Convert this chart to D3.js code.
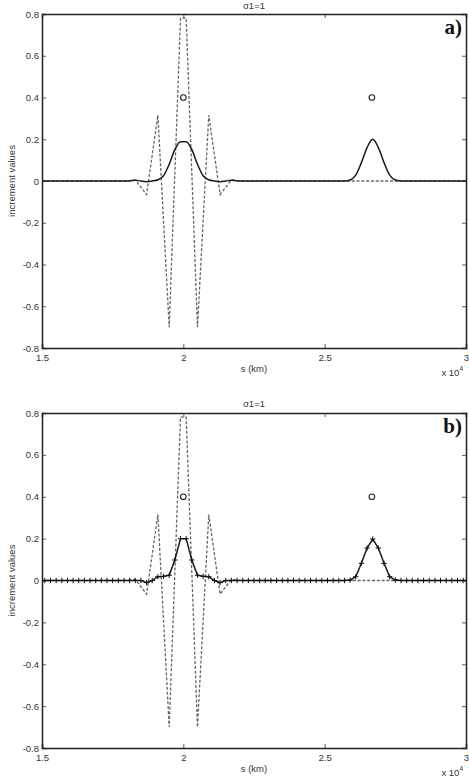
<!DOCTYPE html>
<html><head><meta charset="utf-8">
<script src="https://cdn.jsdelivr.net/npm/d3@7"></script>
<style>body{margin:0;background:#fff}svg{display:block}</style>
</head><body>
<script>
// ---- data (s in units of 1e4 km) ----
const titleText = "σ1=1";
const xTicks = [1.5, 2, 2.5, 3];
const xTickLabels = ["1.5", "2", "2.5", "3"];
const yTicks = [-0.8, -0.6, -0.4, -0.2, 0, 0.2, 0.4, 0.6, 0.8];
const yTickLabels = ["-0.8", "-0.6", "-0.4", "-0.2", "0", "0.2", "0.4", "0.6", "0.8"];

// sample grid
const sGrid = [1.51,1.53,1.55,1.57,1.59,1.61,1.63,1.65,1.67,1.69,1.71,1.73,1.75,1.77,1.79,1.81,1.83,1.85,1.87,1.89,
  1.91,1.93,1.95,1.97,1.99,2.01,2.03,2.05,2.07,2.09,2.11,2.13,2.15,2.17,2.19,2.21,2.23,2.25,2.27,2.29,
  2.31,2.33,2.35,2.37,2.39,2.41,2.43,2.45,2.47,2.49,2.51,2.53,2.55,2.57,2.59,2.61,2.63,2.65,2.67,2.69,
  2.71,2.73,2.75,2.77,2.79,2.81,2.83,2.85,2.87,2.89,2.91,2.93,2.95,2.97,2.99];

// panel a: smooth increment (solid)
const incA = [0,0,0,0,0,0,0,0,0,0,0,0,0,0,0,0,0.004,0,-0.003,0,
  0.006,0.025,0.08,0.15,0.188,0.188,0.15,0.08,0.025,0.006,0,-0.003,0,0.004,0,0,0,0,0,0,
  0,0,0,0,0,0,0,0,0,0,0,0,0,0,0.005,0.028,0.088,0.16,0.2,0.16,
  0.088,0.028,0.005,0,0,0,0,0,0,0,0,0,0,0,0];
// panel b: estimated increment (solid with + markers)
const incB = [0,0,0,0,0,0,0,0,0,0,0,0,0,0,0,0,0,0,-0.01,0,
  0.018,0.02,0.025,0.098,0.2,0.2,0.098,0.025,0.02,0.018,0,-0.01,0,0,0,0,0,0,0,0,
  0,0,0,0,0,0,0,0,0,0,0,0,0,0,0.002,0.018,0.082,0.155,0.198,0.155,
  0.082,0.018,0.002,0,0,0,0,0,0,0,0,0,0,0,0];

// dashed oscillating curve
const dashS = [1.5, 1.79, 1.83, 1.87, 1.91, 1.95, 1.99, 2.01, 2.05, 2.09, 2.13, 2.17, 2.21, 3.0];
const dashV = [0, 0, 0.005, -0.065, 0.315, -0.70, 0.78, 0.78, -0.70, 0.315, -0.065, 0.005, 0, 0];

// true increments (circles)
const circS = [2.0, 2.667];
const circV = [0.4, 0.4];

const panels = [
  {label: "a)", top: 14, bottom: 348, titleY: 8.5, solid: incA, markers: false, smooth: true},
  {label: "b)", top: 413, bottom: 748, titleY: 406.5, solid: incB, markers: true, smooth: false}
];

const W = 469, H = 777, L = 42, R = 466;
const svg = d3.select("body").append("svg").attr("width", W).attr("height", H)
  .style("font-family", "'Liberation Sans', Arial, sans-serif");

const x = d3.scaleLinear().domain([1.5, 3]).range([L, R]);

panels.forEach(p => {
  const y = d3.scaleLinear().domain([-0.8, 0.8]).range([p.bottom, p.top]);
  const g = svg.append("g");

  // title
  g.append("text").attr("x", (L + R) / 2).attr("y", p.titleY)
    .attr("text-anchor", "middle").attr("font-size", 9.5).attr("fill", "#333").text(titleText);

  // axes
  const ax = g.append("g").attr("class", "axes");
  ax.append("g").attr("transform", `translate(0,${p.bottom})`)
    .call(d3.axisBottom(x).tickValues(xTicks).tickSize(-4).tickPadding(6)
      .tickFormat((d, i) => xTickLabels[i]));
  ax.append("g").attr("transform", `translate(0,${p.top})`)
    .call(d3.axisTop(x).tickValues(xTicks).tickSize(-4).tickFormat(""));
  ax.append("g").attr("transform", `translate(${L},0)`)
    .call(d3.axisLeft(y).tickValues(yTicks).tickSize(-4).tickPadding(3)
      .tickFormat((d, i) => yTickLabels[i]));
  ax.append("g").attr("transform", `translate(${R},0)`)
    .call(d3.axisRight(y).tickValues(yTicks).tickSize(-4).tickFormat(""));
  ax.selectAll("path.domain").attr("stroke", "#222").attr("stroke-width", 1.5);
  ax.selectAll(".tick line").attr("stroke", "#333").attr("stroke-width", 0.8);
  ax.selectAll(".tick text").attr("font-size", 9.5).attr("fill", "#333")
    .attr("font-family", "'Liberation Sans', Arial, sans-serif");

  // axis labels
  g.append("text").attr("transform", `translate(14.5,${(p.top + p.bottom) / 2}) rotate(-90)`)
    .attr("text-anchor", "middle").attr("font-size", 9.5).attr("fill", "#333").text("increment values");
  g.append("text").attr("x", (L + R) / 2).attr("y", p.bottom + 24)
    .attr("text-anchor", "middle").attr("font-size", 9.5).attr("fill", "#333").text("s (km)");
  const ex = g.append("text").attr("x", 463).attr("y", p.bottom + 28)
    .attr("text-anchor", "end").attr("font-size", 9.5).attr("fill", "#333");
  ex.append("tspan").text("x 10");
  ex.append("tspan").attr("dy", -5).attr("font-size", 6.5).text("4");

  // panel letter
  g.append("text").attr("x", 462).attr("y", p.top + 20)
    .attr("text-anchor", "end").attr("font-size", 21).attr("font-weight", "bold")
    .attr("font-family", "'Liberation Serif', 'Times New Roman', serif").attr("fill", "#111").text(p.label);

  // dashed curve
  const dashData = dashS.map((s, i) => [s, dashV[i]]);
  g.append("path").datum(dashData)
    .attr("d", d3.line().x(d => x(d[0])).y(d => y(d[1])))
    .attr("fill", "none").attr("stroke", "#666").attr("stroke-width", 1.3)
    .attr("stroke-dasharray", "3,1.8");

  // solid curve
  const solidData = [[1.5, 0]].concat(sGrid.map((s, i) => [s, p.solid[i]]), [[3.0, 0]]);
  g.append("path").datum(solidData)
    .attr("d", d3.line().x(d => x(d[0])).y(d => y(d[1]))
      .curve(p.smooth ? d3.curveMonotoneX : d3.curveLinear))
    .attr("fill", "none").attr("stroke", "#1a1a1a").attr("stroke-width", 1.5);

  // + markers
  if (p.markers) {
    const m = g.append("g");
    sGrid.forEach((s, i) => {
      const cx = x(s), cy = y(p.solid[i]);
      m.append("path").attr("d", `M${cx - 2.7},${cy}H${cx + 2.7}M${cx},${cy - 2.7}V${cy + 2.7}`)
        .attr("stroke", "#111").attr("stroke-width", 1);
    });
  }

  // circles
  g.selectAll("circle.truth").data(circS).join("circle")
    .attr("class", "truth").attr("cx", d => x(d)).attr("cy", (d, i) => y(circV[i]))
    .attr("r", 2.8).attr("fill", "none").attr("stroke", "#222").attr("stroke-width", 1.1);
});
</script>
</body></html>
